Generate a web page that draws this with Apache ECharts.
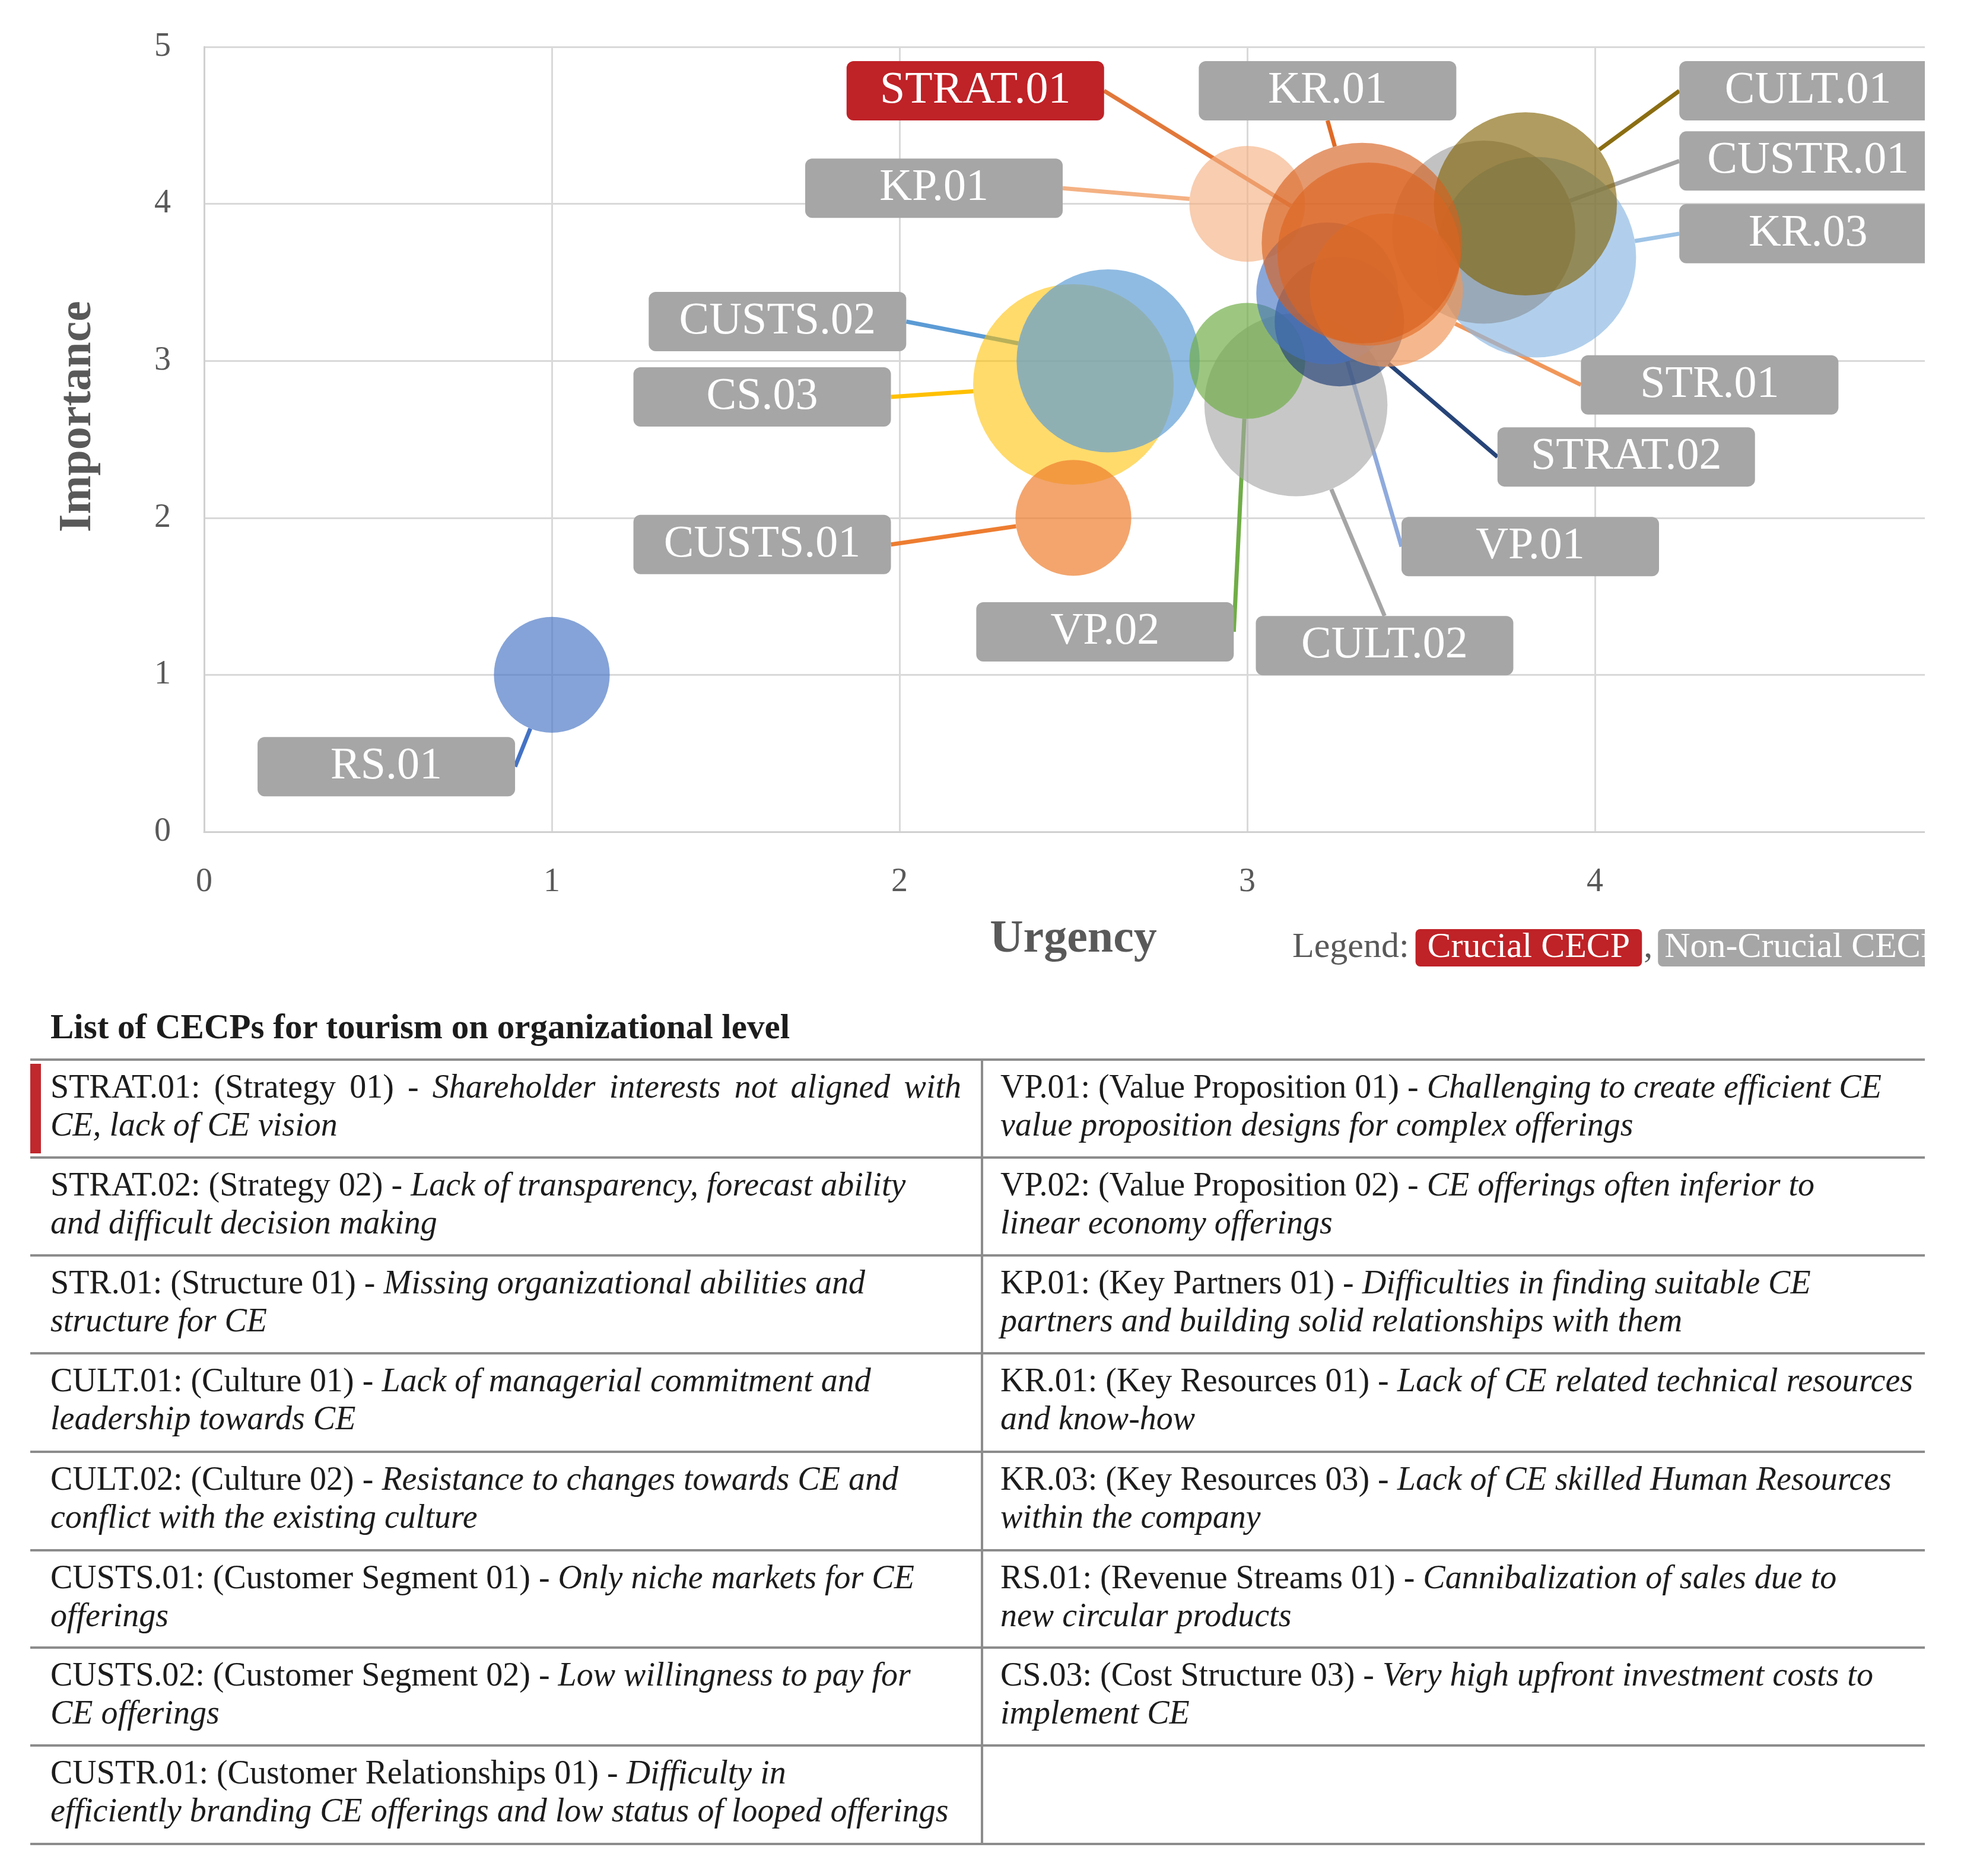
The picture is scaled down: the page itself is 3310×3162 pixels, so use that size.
<!DOCTYPE html>
<html><head><meta charset="utf-8">
<script src="https://cdn.jsdelivr.net/npm/echarts@6/dist/echarts.min.js"></script>
<style>
html,body{margin:0;padding:0;background:#fff;}
body{width:3310px;height:3162px;position:relative;overflow:hidden;font-family:'Liberation Serif',serif;}
#clip{position:absolute;left:0;top:0;width:3244px;height:1700px;overflow:hidden;}
#chart{position:absolute;left:0;top:0;width:3310px;height:1700px;}
.hl{position:absolute;left:51px;width:3193px;height:4px;background:#8c8c8c;}
.vl{position:absolute;left:1653px;width:4px;background:#8c8c8c;}
.cell{position:absolute;font-size:56px;line-height:64px;color:#1c1c1c;white-space:nowrap;}
.cell i{font-style:italic;}
.just{white-space:normal;text-align:justify;text-align-last:justify;width:1535px;}
#title{position:absolute;left:85px;top:1701px;font-size:59px;font-weight:bold;color:#1c1c1c;line-height:59px;white-space:nowrap;}
#redbar{position:absolute;left:51px;top:1793px;width:18px;height:151px;background:#C0282D;}
</style></head>
<body>
<div id="clip"><div id="chart"></div></div>
<div id="title"></div>
<div id="table"></div>
<script>
// ---------------- data ----------------
const codes      = ['RS.01','CS.03','CUSTS.01','CUSTS.02','CULT.02','VP.02','KP.01','KR.03','CUSTR.01','CULT.01','STRAT.02','VP.01','STR.01','STRAT.01','KR.01'];
const urgency    = [1.00, 2.50, 2.50, 2.60, 3.14, 3.00, 3.00, 3.83, 3.68, 3.80, 3.265, 3.23, 3.40, 3.35, 3.33];
const importance = [1.00, 2.85, 2.00, 3.00, 2.72, 3.00, 4.00, 3.66, 3.82, 4.00, 3.25, 3.43, 3.45, 3.68, 3.75];
const weight     = [2, 6, 2, 5, 5, 2, 2, 6, 5, 5, 2.5, 3, 3.5, 5, 6];
const crucialCodes = ['STRAT.01'];
const axisTicks  = ['0','1','2','3','4','5'];
const legendItems = ['Crucial CECP','Non-Crucial CECP'];
const tableTitle = 'List of CECPs for tourism on organizational level';
const tableLeft = [
  ['STRAT.01: (Strategy 01) - ','Shareholder interests not aligned with','CE, lack of CE vision'],
  ['STRAT.02: (Strategy 02) - ','Lack of transparency, forecast ability','and difficult decision making'],
  ['STR.01: (Structure 01) - ','Missing organizational abilities and','structure for CE'],
  ['CULT.01: (Culture 01) - ','Lack of managerial commitment and','leadership towards CE'],
  ['CULT.02: (Culture 02) - ','Resistance to changes towards CE and','conflict with the existing culture'],
  ['CUSTS.01: (Customer Segment 01) - ','Only niche markets for CE','offerings'],
  ['CUSTS.02: (Customer Segment 02) - ','Low willingness to pay for','CE offerings'],
  ['CUSTR.01: (Customer Relationships 01) - ','Difficulty in','efficiently branding CE offerings and low status of looped offerings']
];
const tableRight = [
  ['VP.01: (Value Proposition 01) - ','Challenging to create efficient CE','value proposition designs for complex offerings'],
  ['VP.02: (Value Proposition 02) - ','CE offerings often inferior to','linear economy offerings'],
  ['KP.01: (Key Partners 01) - ','Difficulties in finding suitable CE','partners and building solid relationships with them'],
  ['KR.01: (Key Resources 01) - ','Lack of CE related technical resources','and know-how'],
  ['KR.03: (Key Resources 03) - ','Lack of CE skilled Human Resources','within the company'],
  ['RS.01: (Revenue Streams 01) - ','Cannibalization of sales due to','new circular products'],
  ['CS.03: (Cost Structure 03) - ','Very high upfront investment costs to','implement CE']
];

// ---------------- styles / layout ----------------
const STYLE = {
  'RS.01':   {fill:'#4472C4', a:0.82, line:'#4472C4'},
  'CS.03':   {fill:'#FFC000', a:0.72, line:'#FFC000'},
  'CUSTS.01':{fill:'#EE7F2F', a:0.88, line:'#ED7D31'},
  'CUSTS.02':{fill:'#5B9BD5', a:0.85, line:'#5B9BD5'},
  'CULT.02': {fill:'#A5A5A5', a:0.78, line:'#A5A5A5'},
  'VP.02':   {fill:'#70AD47', a:0.85, line:'#70AD47'},
  'KP.01':   {fill:'#F4B183', a:0.80, line:'#F4B183'},
  'KR.03':   {fill:'#8DB9E3', a:0.85, line:'#9DC3E6'},
  'CUSTR.01':{fill:'#7F7F7F', a:0.60, line:'#A5A5A5'},
  'CULT.01': {fill:'#806000', a:0.78, line:'#8B6E12'},
  'STRAT.02':{fill:'#264478', a:0.85, line:'#264478'},
  'VP.01':   {fill:'#4472C4', a:0.78, line:'#8FAADC'},
  'STR.01':  {fill:'#F1975A', a:0.85, line:'#F1975A'},
  'STRAT.01':{fill:'#E36C26', a:0.80, line:'#E2783A'},
  'KR.01':   {fill:'#D6601D', a:0.80, line:'#E06A25'}
};
// label box centres, in axis units
const LABEL_AT = {
  'RS.01':[0.524,0.415], 'CS.03':[1.605,2.77], 'CUSTS.01':[1.605,1.83], 'CUSTS.02':[1.649,3.25],
  'CULT.02':[3.395,1.186], 'VP.02':[2.591,1.274], 'KP.01':[2.099,4.10], 'KR.03':[4.613,3.81],
  'CUSTR.01':[4.613,4.273], 'CULT.01':[4.613,4.72], 'STRAT.02':[4.09,2.388], 'VP.01':[3.814,1.817],
  'STR.01':[4.33,2.847], 'STRAT.01':[2.218,4.72], 'KR.01':[3.231,4.72]
};
const FONT = 'Liberation Serif';
function rgba(hex,a){const n=parseInt(hex.slice(1),16);return 'rgba('+(n>>16)+','+((n>>8)&255)+','+(n&255)+','+a+')';}

const chart = echarts.init(document.getElementById('chart'), null, {renderer:'canvas'});

const series = codes.map(function(c,i){
  const st = STYLE[c];
  const isCrucial = crucialCodes.indexOf(c) >= 0;
  return {
    type:'scatter', name:c, animation:false, silent:true,
    data:[[urgency[i], importance[i], weight[i]]],
    symbol:'circle',
    symbolSize:function(v){return 138*Math.sqrt(v[2]);},
    itemStyle:{color:rgba(st.fill, st.a)},
    emphasis:{disabled:true},
    label:{
      show:true, formatter:c, color:'#ffffff', opacity:1,
      fontFamily:FONT, fontSize:76,
      backgroundColor: isCrucial ? '#BF2227' : '#A6A6A6',
      borderRadius:12, width:434, height:100, lineHeight:100, padding:0,
      align:'center', verticalAlign:'middle'
    },
    labelLine:{show:true, lineStyle:{color:st.line, width:7, opacity:1}},
    labelLayout:function(){
      const p = chart.convertToPixel({gridIndex:0}, LABEL_AT[c]);
      return {x:p[0], y:p[1], align:'center', verticalAlign:'middle', hideOverlap:false};
    }
  };
});

const axisLabelStyle = {fontFamily:FONT, fontSize:56, color:'#595959'};
const option = {
  backgroundColor:'#ffffff',
  animation:false,
  grid:{left:344, top:79, width:2930, height:1323, containLabel:false},
  xAxis:{
    type:'value', min:0, max:5, interval:1,
    axisLine:{show:true, lineStyle:{color:'#D0D0D0', width:3}},
    axisTick:{show:false},
    splitLine:{show:true, lineStyle:{color:'#D9D9D9', width:3}},
    axisLabel:Object.assign({margin:57, formatter:function(v){return axisTicks[Math.round(v)];}}, axisLabelStyle),
    name:'Urgency', nameLocation:'middle', nameGap:143,
    nameTextStyle:{fontFamily:FONT, fontSize:78, fontWeight:'bold', color:'#595959'}
  },
  yAxis:{
    type:'value', min:0, max:5, interval:1,
    axisLine:{show:true, lineStyle:{color:'#D0D0D0', width:3}},
    axisTick:{show:false},
    splitLine:{show:true, lineStyle:{color:'#D9D9D9', width:3}},
    axisLabel:Object.assign({margin:56, formatter:function(v){return axisTicks[Math.round(v)];}}, axisLabelStyle)
  },
  graphic:[
    {type:'text', x:132, y:702, rotation:Math.PI/2, silent:true,
     style:{text:'Importance', fontFamily:FONT, fontSize:78, fontWeight:'bold', fill:'#595959', align:'center', verticalAlign:'middle'}},
    {type:'text', x:2178, y:1566, silent:true,
     style:{
       text:'{a|Legend:}{r|'+legendItems[0]+'}{b|,}{g|'+legendItems[1]+'}',
       align:'left', verticalAlign:'top',
       rich:{
         a:{fontFamily:FONT, fontSize:60, fill:'#595959', lineHeight:63, padding:[0,11,0,0]},
         r:{fontFamily:FONT, fontSize:60, fill:'#ffffff', backgroundColor:'#BF2227', lineHeight:63, height:63, padding:[0,20,0,20], borderRadius:8},
         b:{fontFamily:FONT, fontSize:60, fill:'#595959', lineHeight:63, padding:[0,9,0,3]},
         g:{fontFamily:FONT, fontSize:60, fill:'#ffffff', backgroundColor:'#A6A6A6', lineHeight:63, height:63, padding:[0,14,0,11], borderRadius:8}
       }
     }}
  ],
  series:series
};
chart.setOption(option);

// ---------------- table ----------------
document.getElementById('title').textContent = tableTitle;
const rowLines = [1786,1951,2116,2281,2447,2613,2777,2942,3108];
const tbl = document.getElementById('table');
let html = '';
rowLines.forEach(function(y){ html += '<div class="hl" style="top:'+(y-2)+'px"></div>'; });
html += '<div class="vl" style="top:'+rowLines[0]+'px;height:'+(rowLines[rowLines.length-1]-rowLines[0])+'px"></div>';
html += '<div id="redbar"></div>';
function esc(s){return s.replace(/&/g,'&amp;').replace(/</g,'&lt;');}
function cell(row, x, y, justify){
  const l1 = esc(row[0]) + '<i>' + esc(row[1]) + '</i>';
  const l2 = '<i>' + esc(row[2]) + '</i>';
  return '<div class="cell" style="left:'+x+'px;top:'+y+'px">' +
         '<div class="'+(justify?'just':'')+'">'+l1+'</div><div>'+l2+'</div></div>';
}
tableLeft.forEach(function(r,i){ html += cell(r, 85, rowLines[i]+13, i===0); });
tableRight.forEach(function(r,i){ html += cell(r, 1686, rowLines[i]+13, false); });
tbl.innerHTML = html;
</script>
</body></html>
